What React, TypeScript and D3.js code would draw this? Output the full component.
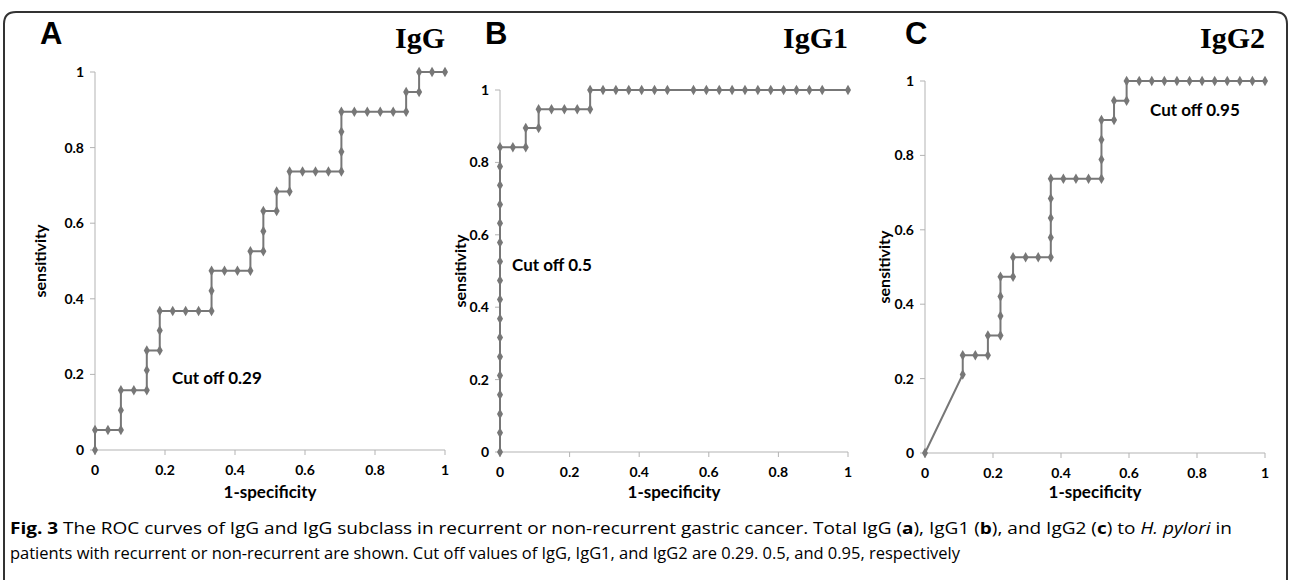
import React from 'react'
import * as d3 from 'd3'

// ROC curves (1-specificity, sensitivity)
const iggFpr = [0, 0, 0.037, 0.074, 0.074, 0.074, 0.111, 0.148, 0.148, 0.148, 0.185, 0.185, 0.185, 0.222, 0.259, 0.296, 0.333, 0.333, 0.333, 0.37, 0.407, 0.444, 0.444, 0.481, 0.481, 0.481, 0.519, 0.519, 0.556, 0.556, 0.593, 0.63, 0.667, 0.704, 0.704, 0.704, 0.704, 0.741, 0.778, 0.815, 0.852, 0.889, 0.889, 0.926, 0.926, 0.963, 1]
const iggTpr = [0, 0.053, 0.053, 0.053, 0.105, 0.158, 0.158, 0.158, 0.211, 0.263, 0.263, 0.316, 0.368, 0.368, 0.368, 0.368, 0.368, 0.421, 0.474, 0.474, 0.474, 0.474, 0.526, 0.526, 0.579, 0.632, 0.632, 0.684, 0.684, 0.737, 0.737, 0.737, 0.737, 0.737, 0.789, 0.842, 0.895, 0.895, 0.895, 0.895, 0.895, 0.895, 0.947, 0.947, 1, 1, 1]

const igg1Fpr = [0, 0, 0, 0, 0, 0, 0, 0, 0, 0, 0, 0, 0, 0, 0, 0, 0, 0.037, 0.074, 0.074, 0.111, 0.111, 0.148, 0.185, 0.222, 0.259, 0.259, 0.296, 0.333, 0.37, 0.407, 0.444, 0.481, 0.556, 0.593, 0.63, 0.667, 0.704, 0.741, 0.778, 0.815, 0.852, 0.889, 0.926, 1]
const igg1Tpr = [0, 0.053, 0.105, 0.158, 0.211, 0.263, 0.316, 0.368, 0.421, 0.474, 0.526, 0.579, 0.632, 0.684, 0.737, 0.789, 0.842, 0.842, 0.842, 0.895, 0.895, 0.947, 0.947, 0.947, 0.947, 0.947, 1, 1, 1, 1, 1, 1, 1, 1, 1, 1, 1, 1, 1, 1, 1, 1, 1, 1, 1]

const igg2Fpr = [0, 0.111, 0.111, 0.148, 0.185, 0.185, 0.222, 0.222, 0.222, 0.222, 0.259, 0.259, 0.296, 0.333, 0.37, 0.37, 0.37, 0.37, 0.37, 0.407, 0.444, 0.481, 0.519, 0.519, 0.519, 0.519, 0.556, 0.556, 0.593, 0.593, 0.63, 0.667, 0.704, 0.741, 0.778, 0.815, 0.852, 0.889, 0.926, 0.963, 1]
const igg2Tpr = [0, 0.211, 0.263, 0.263, 0.263, 0.316, 0.316, 0.368, 0.421, 0.474, 0.474, 0.526, 0.526, 0.526, 0.526, 0.579, 0.632, 0.684, 0.737, 0.737, 0.737, 0.737, 0.737, 0.789, 0.842, 0.895, 0.895, 0.947, 0.947, 1, 1, 1, 1, 1, 1, 1, 1, 1, 1, 1, 1]

const tickValues = [0, 0.2, 0.4, 0.6, 0.8, 1]
const panelLetters = ['A', 'B', 'C']
const panelTitles = ['IgG', 'IgG1', 'IgG2']
const cutOffLabels = ['Cut off 0.29', 'Cut off 0.5', 'Cut off 0.95']

const LINE = '#777777'
const AXIS = '#b3b3b3'
const LABEL_FONT = 'Lato, "Open Sans", sans-serif'

// plot boxes and label spots for each panel
const layout = [
  { x0: 95, x1: 445, y0: 450, y1: 72, letterX: 40, ytX: 46, cutX: 172, cutY: 384 },
  { x0: 500, x1: 848, y0: 452, y1: 90, letterX: 485, ytX: 466, cutX: 512, cutY: 271 },
  { x0: 925, x1: 1265, y0: 453, y1: 81, letterX: 905, ytX: 890, cutX: 1150, cutY: 116 },
]

const series = [
  { fpr: iggFpr, tpr: iggTpr },
  { fpr: igg1Fpr, tpr: igg1Tpr },
  { fpr: igg2Fpr, tpr: igg2Tpr },
]

function Panel({ idx }: { idx: number }) {
  const g = layout[idx]
  const { fpr, tpr } = series[idx]
  const x = d3.scaleLinear().domain([0, 1]).range([g.x0, g.x1])
  const y = d3.scaleLinear().domain([0, 1]).range([g.y0, g.y1])
  const fmt = d3.format('~g')
  const pts = fpr.map((f, i) => [f, tpr[i]] as [number, number])
  const line = d3.line<[number, number]>().x(d => x(d[0])).y(d => y(d[1]))
  const diamond = d3.symbol().type(d3.symbolDiamond).size(32)()

  return (
    <g>
      <text x={g.letterX} y={44} fontFamily='"Liberation Sans", Arial, sans-serif' fontWeight="bold" fontSize={31}>
        {panelLetters[idx]}
      </text>
      <text x={g.x1} y={48} textAnchor="end" fontFamily='"Liberation Serif", "DejaVu Serif", serif' fontWeight="bold" fontSize={30}>
        {panelTitles[idx]}
      </text>

      {/* axes */}
      <line x1={g.x0} x2={g.x0} y1={g.y0} y2={g.y1} stroke={AXIS} />
      <line x1={g.x0} x2={g.x1} y1={g.y0} y2={g.y0} stroke={AXIS} />
      {tickValues.map(t => (
        <g key={'y' + t}>
          <line x1={g.x0 - 5} x2={g.x0} y1={y(t)} y2={y(t)} stroke={AXIS} />
          <text x={g.x0 - 11} y={y(t)} dy="0.35em" textAnchor="end" fontFamily={LABEL_FONT} fontWeight="bold" fontSize={14}>
            {fmt(t)}
          </text>
        </g>
      ))}
      {tickValues.map(t => (
        <g key={'x' + t}>
          <line x1={x(t)} x2={x(t)} y1={g.y0} y2={g.y0 + 5} stroke={AXIS} />
          <text x={x(t)} y={g.y0 + 25} textAnchor="middle" fontFamily={LABEL_FONT} fontWeight="bold" fontSize={14}>
            {fmt(t)}
          </text>
        </g>
      ))}
      <text x={(g.x0 + g.x1) / 2} y={498} textAnchor="middle" fontFamily={LABEL_FONT} fontWeight="bold" fontSize={17}>
        1-specificity
      </text>
      <text transform={`translate(${g.ytX},${(g.y0 + g.y1) / 2}) rotate(-90)`} textAnchor="middle" fontFamily={LABEL_FONT} fontWeight="bold" fontSize={16}>
        sensitivity
      </text>

      {/* curve */}
      <path d={line(pts) || ''} fill="none" stroke={LINE} strokeWidth={2} />
      {pts.map((p, i) => (
        <path key={i} d={diamond || ''} transform={`translate(${x(p[0])},${y(p[1])})`} fill={LINE} />
      ))}

      <text x={g.cutX} y={g.cutY} fontFamily={LABEL_FONT} fontWeight="bold" fontSize={17}>
        {cutOffLabels[idx]}
      </text>
    </g>
  )
}

export default function App() {
  const width = 1290
  const height = 580
  return (
    <svg width={width} height={height} style={{ position: 'absolute', left: 0, top: 0, background: '#fff' }}>
      <rect x={0} y={0} width={width} height={height} fill="#fff" />
      <path d={`M4,${height + 10} V24 Q4,12 16,12 H1275 Q1287,12 1287,24 V${height + 10}`} fill="none" stroke="#333" strokeWidth={2} />
      {layout.map((_, i) => <Panel key={i} idx={i} />)}
      <text x={10} y={534} fontFamily='"Open Sans", sans-serif' fontSize={16.5} textLength={1222} lengthAdjust="spacingAndGlyphs">
        <tspan fontWeight="bold">Fig. 3</tspan> The ROC curves of IgG and IgG subclass in recurrent or non-recurrent gastric cancer. Total IgG (
        <tspan fontWeight="bold">a</tspan>), IgG1 (<tspan fontWeight="bold">b</tspan>), and IgG2 (<tspan fontWeight="bold">c</tspan>) to{' '}
        <tspan fontStyle="italic">H. pylori</tspan> in
      </text>
      <text x={10} y={559} fontFamily='"Open Sans", sans-serif' fontSize={16.5} textLength={950} lengthAdjust="spacingAndGlyphs">
        patients with recurrent or non-recurrent are shown. Cut off values of IgG, IgG1, and IgG2 are 0.29. 0.5, and 0.95, respectively
      </text>
    </svg>
  )
}
